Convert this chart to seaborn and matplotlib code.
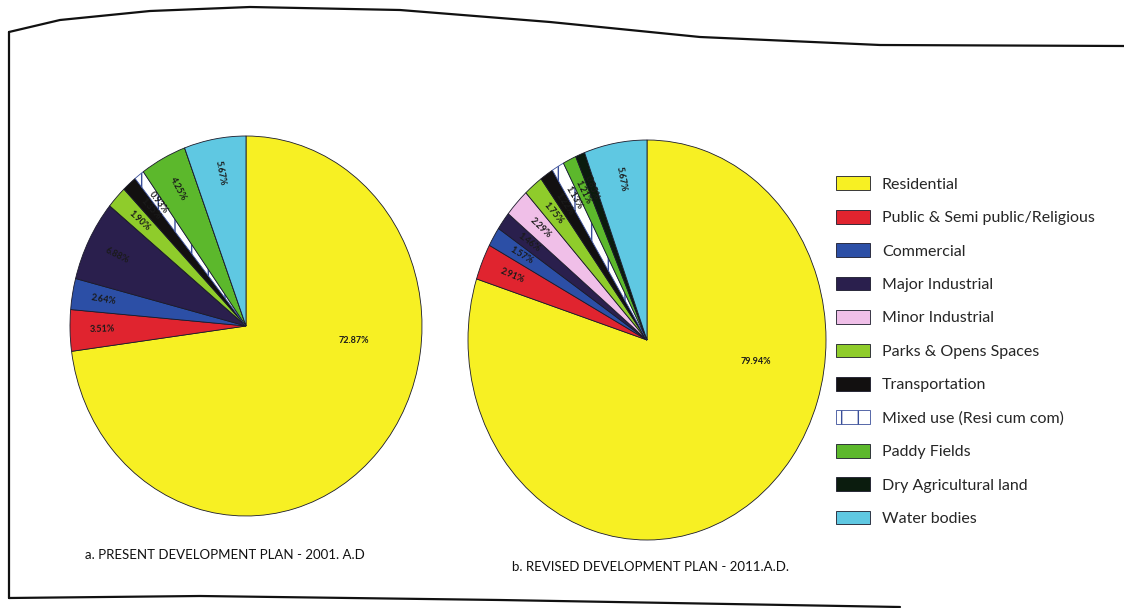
import numpy as np
import matplotlib
matplotlib.use('Agg')
import matplotlib.pyplot as plt
import seaborn as sns
from matplotlib.lines import Line2D

sns.set_theme(style='white')
plt.rcParams['font.family'] = ['Lato', 'DejaVu Sans']

# land use categories (legend order)
categories = [
    'Residential', 'Public & Semi public/Religious', 'Commercial', 'Major Industrial',
    'Minor Industrial', 'Parks & Opens Spaces', 'Transportation', 'Mixed use (Resi cum com)',
    'Paddy Fields', 'Dry Agricultural land', 'Water bodies',
]
# share of area in percent
plan_2001 = [72.87, 3.51, 2.64, 6.88, 0.0, 1.90, 1.35, 0.93, 4.25, 0.0, 5.67]
plan_2011 = [79.94, 2.91, 1.57, 1.46, 2.29, 1.75, 1.22, 1.13, 1.21, 0.85, 5.67]

titles = ['a. PRESENT DEVELOPMENT PLAN - 2001. A.D', 'b. REVISED DEVELOPMENT PLAN - 2011.A.D.']

colors = ['#f7f023', '#e0242f', '#2c4fa6', '#2a1f4d', '#f0bfe8', '#8fcc2b',
          '#121010', '#ffffff', '#5cb82c', '#0b1c0e', '#5fc8e2']
hatches = [None] * len(categories)
hatches[7] = '|'

fig = plt.figure(figsize=(11.24, 6.08), dpi=100)
W, H = 1124, 608


def px_axes(x0, y0, x1, y1, pad=1.03):
    # axes rectangle from pixel box of the pie (top-left origin)
    w, h = x1 - x0, y1 - y0
    cx, cy = (x0 + x1) / 2, (y0 + y1) / 2
    w, h = w * pad, h * pad
    return fig.add_axes([(cx - w / 2) / W, 1 - (cy + h / 2) / H, w / W, h / H])


boxes = [(70, 136, 422, 516), (468, 140, 826, 540)]
wedges_b = None
for i, (vals, box) in enumerate(zip([plan_2001, plan_2011], boxes)):
    ax = px_axes(*box)
    wedges, _ = ax.pie(
        vals, colors=colors, startangle=90, counterclock=False,
        hatch=hatches, labels=categories,
        wedgeprops=dict(edgecolor='#1a1a2a', linewidth=0.6),
        labeldistance=None,
    )
    for w, v in zip(wedges, vals):
        if w.get_hatch():
            w.set_edgecolor('#3a4f9a')
        if v <= 0:
            continue
        mid = (w.theta1 + w.theta2) / 2
        if v > 50:
            r, mid, rot = 0.62, (-7 if i == 0 else -10), 0
        else:
            r = 0.82
            # text reads from the rim toward the centre
            rot = ((mid + 270) % 180) - 90
        th = np.deg2rad(mid)
        ax.text(r * np.cos(th), r * np.sin(th), f'{v:.2f}%', ha='center', va='center',
                rotation=rot, fontsize=6.5, fontweight='bold', color='#1a1a1a')
    ax.set_aspect('auto')
    ax.set_xlim(-1.03, 1.03)
    ax.set_ylim(-1.03, 1.03)
    if i == 1:
        wedges_b = wedges

fig.text(85 / W, 1 - 555 / H, titles[0], fontsize=9.5, va='center', ha='left', color='#111')
fig.text(512 / W, 1 - 567 / H, titles[1], fontsize=9.5, va='center', ha='left', color='#111')

fig.legend(wedges_b, categories, loc='upper left', bbox_to_anchor=(830 / W, 1 - 170 / H),
           frameon=False, fontsize=11.5, handlelength=2.1, handleheight=0.95,
           labelspacing=1.13, handletextpad=0.75, borderaxespad=0)

# photo page border
top = [(9, 32), (60, 20), (150, 11), (250, 7), (400, 10), (550, 22), (700, 37), (880, 45), (1124, 46)]
bottom = [(9, 598), (200, 596), (500, 600), (900, 607)]
for pts in [top, bottom, [(9, 32), (9, 598)]]:
    xs = [p[0] / W for p in pts]
    ys = [1 - p[1] / H for p in pts]
    fig.add_artist(Line2D(xs, ys, color='#111', linewidth=1.6, transform=fig.transFigure))

fig.savefig('out.png', dpi=100)
